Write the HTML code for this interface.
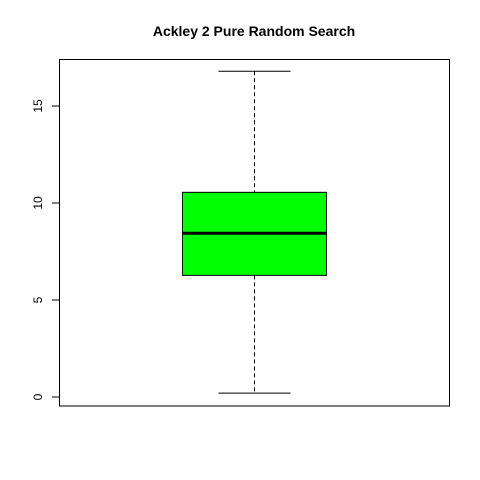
<!DOCTYPE html>
<html><head><meta charset="utf-8"><style>
html,body{margin:0;padding:0;background:#fff;width:480px;height:480px;overflow:hidden}
svg{display:block;font-family:"Liberation Sans",Arial,sans-serif}
</style></head><body>
<svg id="chart" width="480" height="480">
<rect x="0" y="0" width="480" height="480" fill="#fff"/>
<text x="254" y="36" text-anchor="middle" font-size="14" font-weight="bold">Ackley 2 Pure Random Search</text>
<rect x="59.5" y="59.5" width="390" height="346.5" fill="none" stroke="#000" stroke-width="1"/>
<g id="yaxis"></g>
<g id="box"></g>
</svg>
<script>
const yTicks = [0, 5, 10, 15];
const statNames = ["min", "q1", "median", "q3", "max"];
const statValues = [0.2, 6.27, 8.44, 10.55, 16.79];
const NS = "http://www.w3.org/2000/svg";
function y(v){ return 397 - v * 19.4; }
function mk(tag, attrs, parent){
  const e = document.createElementNS(NS, tag);
  for (const k in attrs) e.setAttribute(k, attrs[k]);
  parent.appendChild(e); return e;
}
const ya = document.getElementById('yaxis');
mk('line',{x1:59.5,x2:59.5,y1:y(yTicks[0]),y2:y(yTicks[yTicks.length-1]),stroke:'#000'},ya);
yTicks.forEach(t=>{
  const l = mk('line',{x1:52,x2:59.5,y1:y(t),y2:y(t),stroke:'#000'},ya);
  
  
  const tx = mk('text',{x:0,y:0,transform:`translate(42,${y(t)}) rotate(-90)`,'text-anchor':'middle','font-size':'12'},ya);
  tx.textContent = t;
  
  
});
const g = document.getElementById('box');
const [mn,q1,md,q3,mx] = statValues;
const cx = 254.5, bl = 182.5, br = 326.5, cl = 218.5, cr = 290.5;
let e;
e = mk('line',{x1:cx,x2:cx,y1:y(mx),y2:y(q3),stroke:'#000','stroke-dasharray':'4,3'},g);


e = mk('line',{x1:cx,x2:cx,y1:y(q1),y2:y(mn),stroke:'#000','stroke-dasharray':'4,3'},g);


e = mk('line',{x1:cl,x2:cr,y1:y(mx),y2:y(mx),stroke:'#000'},g);


e = mk('line',{x1:cl,x2:cr,y1:y(mn),y2:y(mn),stroke:'#000'},g);


e = mk('rect',{x:bl,y:y(q3),width:br-bl,height:y(q1)-y(q3),fill:'#00ff00',stroke:'#000'},g);


e = mk('line',{x1:bl,x2:br,y1:y(md),y2:y(md),stroke:'#000','stroke-width':3},g);


</script>
</body></html>
